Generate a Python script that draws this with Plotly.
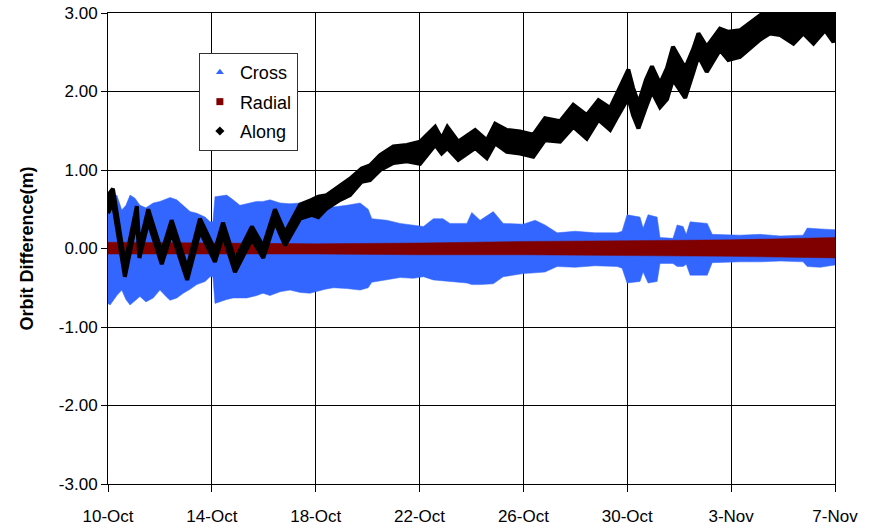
import plotly.graph_objects as go

# ---------------- data ----------------
tick_days = [0, 4, 8, 12, 16, 20, 24, 28]
tick_labels = ["10-Oct", "14-Oct", "18-Oct", "22-Oct", "26-Oct", "30-Oct", "3-Nov", "7-Nov"]
y_ticks = [-3, -2, -1, 0, 1, 2, 3]
y_tick_labels = ["-3.00", "-2.00", "-1.00", "0.00", "1.00", "2.00", "3.00"]

# Cross: envelope of the dense oscillation (days since 10-Oct)
cross_days = [0.00, 0.08, 0.34, 0.53, 0.69, 0.85, 1.04, 1.23, 1.46, 1.74, 2.00, 2.26, 2.39, 2.65,
              2.90, 3.16, 3.42, 3.74, 3.93, 4.04, 4.12, 4.57, 4.82, 5.08, 5.34, 5.73, 5.97, 6.24,
              6.63, 7.01, 7.40, 7.78, 8.04, 8.36, 8.68, 9.19, 9.71, 10.02, 10.16, 10.74, 11.25,
              11.76, 12.15, 12.53, 12.90, 13.17, 13.82, 14.01, 14.33, 14.84, 15.22, 15.99, 16.45,
              16.83, 17.30, 17.99, 18.76, 19.61, 19.80, 19.99, 20.49, 20.61, 20.80, 21.15, 21.26,
              21.76, 21.92, 22.15, 22.27, 22.42, 23.08, 23.27, 24.34, 25.12, 25.89, 26.77, 26.93,
              27.43, 28.00]
cross_hi = [0.55, 0.60, 0.68, 0.49, 0.55, 0.68, 0.64, 0.55, 0.52, 0.58, 0.60, 0.64, 0.65, 0.62,
            0.55, 0.47, 0.45, 0.40, 0.34, 0.34, 0.66, 0.68, 0.62, 0.55, 0.57, 0.60, 0.60, 0.62,
            0.58, 0.57, 0.58, 0.56, 0.55, 0.53, 0.53, 0.55, 0.58, 0.50, 0.38, 0.36, 0.32,
            0.30, 0.28, 0.38, 0.38, 0.32, 0.32, 0.46, 0.36, 0.47, 0.32, 0.31, 0.36,
            0.30, 0.20, 0.22, 0.20, 0.20, 0.22, 0.43, 0.40, 0.26, 0.43, 0.40, 0.14,
            0.13, 0.30, 0.28, 0.18, 0.34, 0.32, 0.18, 0.17, 0.18, 0.16, 0.17, 0.26,
            0.25, 0.24]
cross_lo = [-0.70, -0.72, -0.60, -0.53, -0.65, -0.72, -0.66, -0.61, -0.68, -0.63, -0.53, -0.62, -0.66, -0.63,
            -0.57, -0.52, -0.46, -0.42, -0.36, -0.36, -0.70, -0.65, -0.63, -0.63, -0.63, -0.60, -0.57, -0.60,
            -0.55, -0.53, -0.56, -0.57, -0.55, -0.52, -0.50, -0.51, -0.53, -0.50, -0.43, -0.40, -0.37,
            -0.38, -0.36, -0.40, -0.42, -0.42, -0.44, -0.46, -0.46, -0.45, -0.36, -0.32, -0.31,
            -0.30, -0.23, -0.24, -0.22, -0.23, -0.25, -0.44, -0.42, -0.30, -0.44, -0.42, -0.19,
            -0.19, -0.23, -0.23, -0.20, -0.34, -0.34, -0.18, -0.17, -0.17, -0.16, -0.17, -0.23,
            -0.24, -0.21]

# Radial: envelope
radial_days = [0, 4, 8, 12, 16, 20, 24, 28]
radial_hi = [0.08, 0.07, 0.06, 0.07, 0.09, 0.10, 0.11, 0.14]
radial_lo = [-0.07, -0.07, -0.07, -0.08, -0.08, -0.09, -0.10, -0.12]

# Along: envelope
along_days = [0.00, 0.19, 0.65, 1.11, 1.21, 1.55, 2.07, 2.45, 3.05, 3.54, 4.12, 4.43, 4.89, 5.54,
              5.98, 6.43, 6.82, 7.40, 7.85, 8.10, 8.42, 8.94, 9.32, 9.77, 10.09, 10.48, 10.99,
              11.51, 12.02, 12.60, 12.85, 13.07, 13.49, 14.14, 14.59, 14.91, 15.36, 15.87, 16.38,
              16.83, 17.41, 17.92, 18.44, 18.89, 19.34, 19.57, 20.04, 20.22, 20.43, 20.72, 20.95,
              21.26, 21.53, 21.76, 22.23, 22.55, 22.74, 23.06, 23.57, 23.89, 24.34, 25.11, 25.50,
              25.89, 26.40, 26.78, 27.17, 27.62, 27.94, 28.00]
along_hi = [0.68, 0.76, -0.20, 0.54, 0.03, 0.50, -0.05, 0.36, -0.25, 0.38, -0.02, 0.33, -0.15, 0.28,
            0.03, 0.50, 0.20, 0.56, 0.62, 0.66, 0.68, 0.81, 0.89, 1.02, 1.06, 1.19, 1.30,
            1.32, 1.36, 1.55, 1.40, 1.55, 1.36, 1.51, 1.38, 1.59, 1.51, 1.49, 1.45,
            1.66, 1.62, 1.83, 1.70, 1.89, 1.79, 1.95, 2.28, 2.05, 1.85, 2.15, 2.32,
            2.10, 2.30, 2.57, 2.30, 2.55, 2.74, 2.57, 2.80, 2.76, 2.78, 2.97, 3.05,
            3.05, 3.05, 3.05, 3.05, 3.05, 3.00, 2.95]
along_lo = [0.45, 0.58, -0.36, 0.38, -0.12, 0.34, -0.20, 0.20, -0.40, 0.22, -0.17, 0.17, -0.30, 0.12,
            -0.12, 0.34, 0.04, 0.38, 0.43, 0.40, 0.51, 0.62, 0.68, 0.85, 0.87, 1.00, 1.09,
            1.11, 1.08, 1.32, 1.21, 1.28, 1.13, 1.28, 1.15, 1.34, 1.23, 1.21, 1.17,
            1.38, 1.36, 1.55, 1.40, 1.64, 1.51, 1.65, 1.92, 1.70, 1.53, 1.80, 2.00,
            1.80, 1.90, 2.15, 1.92, 2.25, 2.45, 2.25, 2.53, 2.40, 2.44, 2.66, 2.74,
            2.72, 2.61, 2.74, 2.61, 2.78, 2.63, 2.68]

series_names = ["Cross", "Radial", "Along"]
series_colors = ["#3366FF", "#800000", "#000000"]
series_symbols = ["triangle-up", "square", "diamond"]

# ---------------- figure ----------------
FONT = "Liberation Sans, Arial, sans-serif"
fig = go.Figure()


def band(days, hi, lo, color, edge):
    return go.Scatter(
        x=list(days) + list(days)[::-1],
        y=list(hi) + list(lo)[::-1],
        mode="lines",
        fill="toself",
        fillcolor=color,
        line=dict(color=color, width=edge),
        showlegend=False,
        hoverinfo="skip",
    )


fig.add_trace(band(cross_days, cross_hi, cross_lo, series_colors[0], 0.5))
fig.add_trace(band(radial_days, radial_hi, radial_lo, series_colors[1], 0.5))
fig.add_trace(band(along_days, along_hi, along_lo, series_colors[2], 4))

for name, col, sym in zip(series_names, series_colors, series_symbols):
    fig.add_trace(go.Scatter(
        x=[None], y=[None], mode="markers", name=name, legendgroup=name,
        marker=dict(color=col, symbol=sym, size=7),
    ))

fig.update_layout(
    width=878, height=530,
    margin=dict(l=108, r=43, t=13, b=46, autoexpand=False),
    paper_bgcolor="white", plot_bgcolor="white",
    font=dict(family=FONT, size=17, color="black"),
    showlegend=True,
    legend=dict(
        x=0.125, y=0.915, xanchor="left", yanchor="top",
        bgcolor="white", bordercolor="#333333", borderwidth=1,
        font=dict(family=FONT, size=18, color="black"),
        itemsizing="trace", tracegroupgap=3, itemwidth=30,
    ),
)

fig.update_xaxes(
    range=[0, 28], tickmode="array", tickvals=tick_days, ticktext=tick_labels,
    showgrid=True, gridcolor="#000000", gridwidth=1,
    showline=True, linecolor="#000000", linewidth=1, mirror=True,
    ticks="outside", ticklen=7, tickcolor="#000000", ticklabelstandoff=10,
    zeroline=False, tickfont=dict(size=17), automargin=False,
)
fig.update_yaxes(
    range=[-3, 3], tickmode="array", tickvals=y_ticks, ticktext=y_tick_labels,
    showgrid=True, gridcolor="#000000", gridwidth=1,
    showline=True, linecolor="#000000", linewidth=1, mirror=True,
    ticks="outside", ticklen=6, tickcolor="#000000",
    zeroline=False, tickfont=dict(size=17), automargin=False,
    title=dict(text="<b>Orbit Difference(m)</b>", font=dict(size=18), standoff=20),
)

fig.write_html("out.html")
